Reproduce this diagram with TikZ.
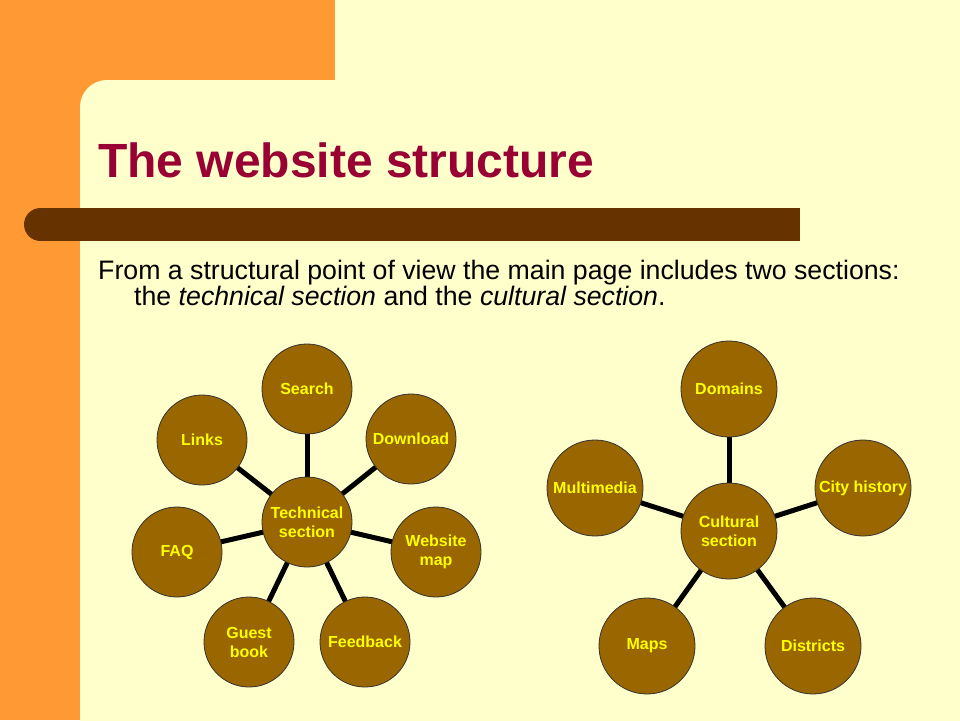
\documentclass[tikz,border=0pt]{standalone}
\usepackage{fontspec}
\setmainfont{Liberation Sans}
\pgfdeclarelayer{bg}
\pgfdeclarelayer{spokes}
\pgfsetlayers{bg,spokes,main}
\definecolor{cream}{HTML}{FFFFCC}
\definecolor{orangeband}{HTML}{FF9933}
\definecolor{barbrown}{HTML}{663300}
\definecolor{titlered}{HTML}{990033}
\definecolor{circfill}{HTML}{996600}
\definecolor{circtext}{HTML}{FFFF00}
\tikzset{
  bubble/.style={circle, fill=circfill, draw=black!80, line width=0.8pt,
    minimum size=90pt, inner sep=0pt, align=center, text=circtext,
    font=\fontsize{16}{19}\selectfont\bfseries},
  bigbubble/.style={bubble, minimum size=96pt},
  spoke/.style={line width=5pt, black},
}
\begin{document}
\begin{tikzpicture}[x=1pt,y=-1pt]
\useasboundingbox (0,0) rectangle (960,720);
\begin{pgfonlayer}{bg}
\fill[cream] (0,0) rectangle (960,720);
\fill[orangeband] (0,0) rectangle (335,110);
\fill[orangeband] (0,0) rectangle (110,720);
\fill[cream, rounded corners=27pt] (80,80) rectangle (1000,780);
% brown bar
\fill[barbrown] (40.5,208) rectangle (800,241);
\fill[barbrown] (40.5,224.5) circle (16.5);
\end{pgfonlayer}
% title
\node[anchor=base west, inner sep=0pt, text=titlered, font=\fontsize{48}{56}\selectfont\bfseries] (title) at (98,177) {The website structure};
\node[anchor=base west, inner sep=0pt, font=\fontsize{26.7}{30}\selectfont] (line1) at (98,279) {From a structural point of view the main page includes two sections:};
\node[anchor=base west, inner sep=0pt, font=\fontsize{26.7}{30}\selectfont] (line2) at (134,305) {the \textit{technical section} and the \textit{cultural section}.};
% technical
\node[bubble] (tech) at (307,522) {Technical\\section};
\node[bubble] (search) at (307,389) {Search};
\node[bubble] (download) at (411,439) {Download};
\node[bubble] (links) at (202,440) {Links};
\node[bubble] (faq) at (177,552) {FAQ};
\node[bubble] (wmap) at (436,552) {Website\\map};
\node[bubble] (guest) at (249,642) {Guest\\book};
\node[bubble] (feedback) at (365,642) {Feedback};
% cultural
\node[bigbubble] (cult) at (729,531) {Cultural\\section};
\node[bigbubble] (domains) at (729,389) {Domains};
\node[bigbubble] (city) at (863,488) {City history};
\node[bigbubble] (multi) at (595,488) {Multimedia};
\node[bigbubble] (maps) at (647,646) {Maps};
\node[bigbubble] (districts) at (813,646) {Districts};
\begin{pgfonlayer}{spokes}
\foreach \n in {search,download,links,faq,wmap,guest,feedback}
  \draw[spoke] (tech.center) -- (\n.center);
\foreach \n in {domains,city,multi,maps,districts}
  \draw[spoke] (cult.center) -- (\n.center);
\end{pgfonlayer}
\end{tikzpicture}
\end{document}
